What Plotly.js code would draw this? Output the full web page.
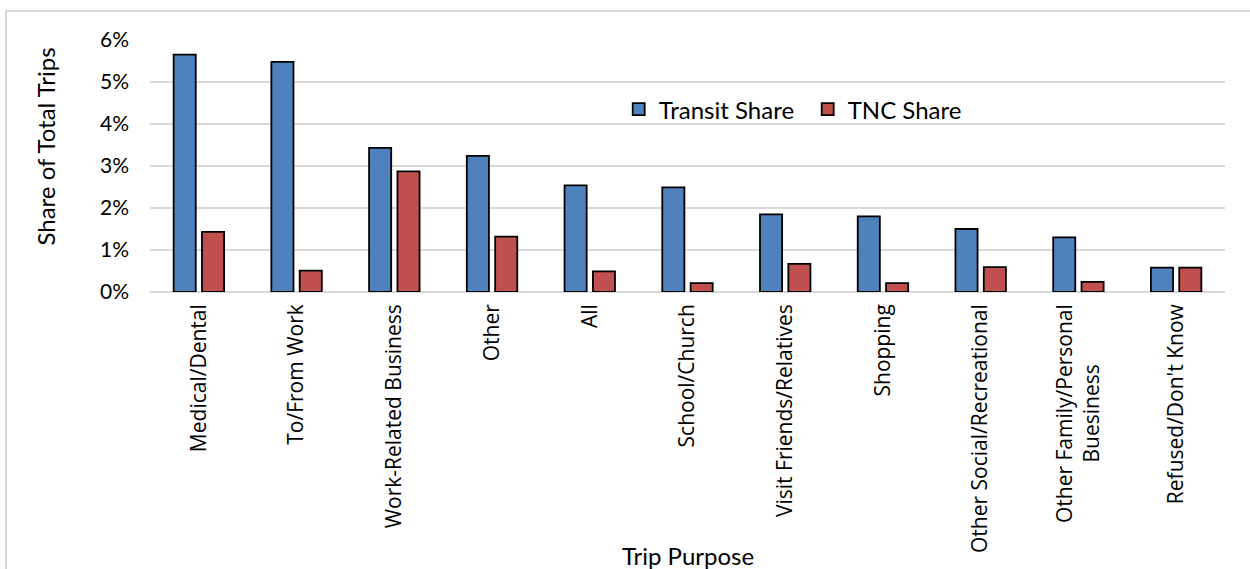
<!DOCTYPE html>
<html>
<head>
<meta charset="utf-8">
<script src="https://cdn.plot.ly/plotly-3.0.1.min.js"></script>
<style>
  html, body { margin: 0; padding: 0; background: #fff; }
  #wrap { position: relative; width: 1250px; height: 569px; overflow: hidden; }
  #chart { position: absolute; left: 0; top: 0; width: 1250px; height: 569px; }
  #frame { position: absolute; left: 5px; top: 10px; width: 1300px; height: 600px;
           border-top: 2px solid #d9d9d9; border-left: 2px solid #d9d9d9; pointer-events: none; }
</style>
</head>
<body>
<div id="wrap">
  <div id="chart"></div>
  <div id="frame"></div>
</div>
<script>
const categories = [
  "Medical/Dental", "To/From Work", "Work-Related Business", "Other", "All",
  "School/Church", "Visit Friends/Relatives", "Shopping", "Other Social/Recreational",
  "Other Family/Personal Buesiness", "Refused/Don't Know"
];
const tickLabels = [
  "Medical/Dental", "To/From Work", "Work-Related Business", "Other", "All",
  "School/Church", "Visit Friends/Relatives", "Shopping", "Other Social/Recreational",
  "Other Family/Personal<br>Buesiness", "Refused/Don't Know"
];
const transitShare = [5.65, 5.48, 3.43, 3.24, 2.54, 2.49, 1.85, 1.80, 1.50, 1.30, 0.58];
const tncShare     = [1.43, 0.51, 2.87, 1.32, 0.49, 0.21, 0.67, 0.21, 0.59, 0.24, 0.58];
const yTickVals = [0, 1, 2, 3, 4, 5, 6];
const yTickText = ["0%", "1%", "2%", "3%", "4%", "5%", "6%"];
const seriesNames = ["Transit Share", "TNC Share"];

// centre the second line of a two-line rotated label by padding its end
const NB = "\u00a0";
const displayTicks = tickLabels.map(t => {
  if (t.indexOf("<br>") < 0) return t;
  const parts = t.split("<br>");
  return parts[0] + "<br>" + parts[1] + NB.repeat(11);
});

const blue = "#4f81bd", red = "#c0504d";
const traces = [
  { type: "bar", name: seriesNames[0], x: categories, y: transitShare,
    marker: { color: blue, line: { color: "#000", width: 1.8 } } },
  { type: "bar", name: seriesNames[1], x: categories, y: tncShare,
    marker: { color: red, line: { color: "#000", width: 1.8 } } }
];

const layout = {
  width: 1250, height: 569,
  margin: { l: 150, r: 25, t: 40, b: 277, pad: 0 },
  paper_bgcolor: "#fff", plot_bgcolor: "#fff",
  barmode: "group", bargap: 0.42, bargroupgap: 0.22,
  showlegend: true,
  legend: {
    orientation: "h", x: 0.436, xanchor: "left", y: 0.724, yanchor: "middle",
    entrywidth: 144, entrywidthmode: "pixels",
    font: { family: "Lato, sans-serif", size: 24, color: "#000" },
    bgcolor: "rgba(0,0,0,0)", itemclick: false
  },
  xaxis: {
    type: "category", tickmode: "array", tickvals: categories, ticktext: displayTicks,
    tickangle: -90, ticks: "", showgrid: false, zeroline: false,
    showline: false, ticklabelstandoff: 7,
    tickfont: { family: "Open Sans, sans-serif", size: 21, color: "#000" }
  },
  yaxis: {
    range: [0, 6], tickmode: "array", tickvals: yTickVals, ticktext: yTickText,
    showgrid: true, gridcolor: "#d9d9d9", gridwidth: 2,
    zeroline: true, zerolinecolor: "#d9d9d9", zerolinewidth: 2,
    showline: false, ticks: "", ticklabelstandoff: 20,
    tickfont: { family: "Lato, sans-serif", size: 21, color: "#000" }
  },
  annotations: [
    { text: "Share of Total Trips", xref: "paper", yref: "paper",
      x: -0.0968, y: 0.577, xanchor: "center", yanchor: "middle",
      textangle: -90, showarrow: false,
      font: { family: "Lato, sans-serif", size: 24, color: "#000" } },
    { text: "Trip Purpose", xref: "paper", yref: "paper",
      x: 0.5, y: -1.046, xanchor: "center", yanchor: "middle",
      showarrow: false,
      font: { family: "Lato, sans-serif", size: 24, color: "#000" } }
  ]
};

Plotly.newPlot("chart", traces, layout, { displayModeBar: false, staticPlot: true });
</script>
</body>
</html>
